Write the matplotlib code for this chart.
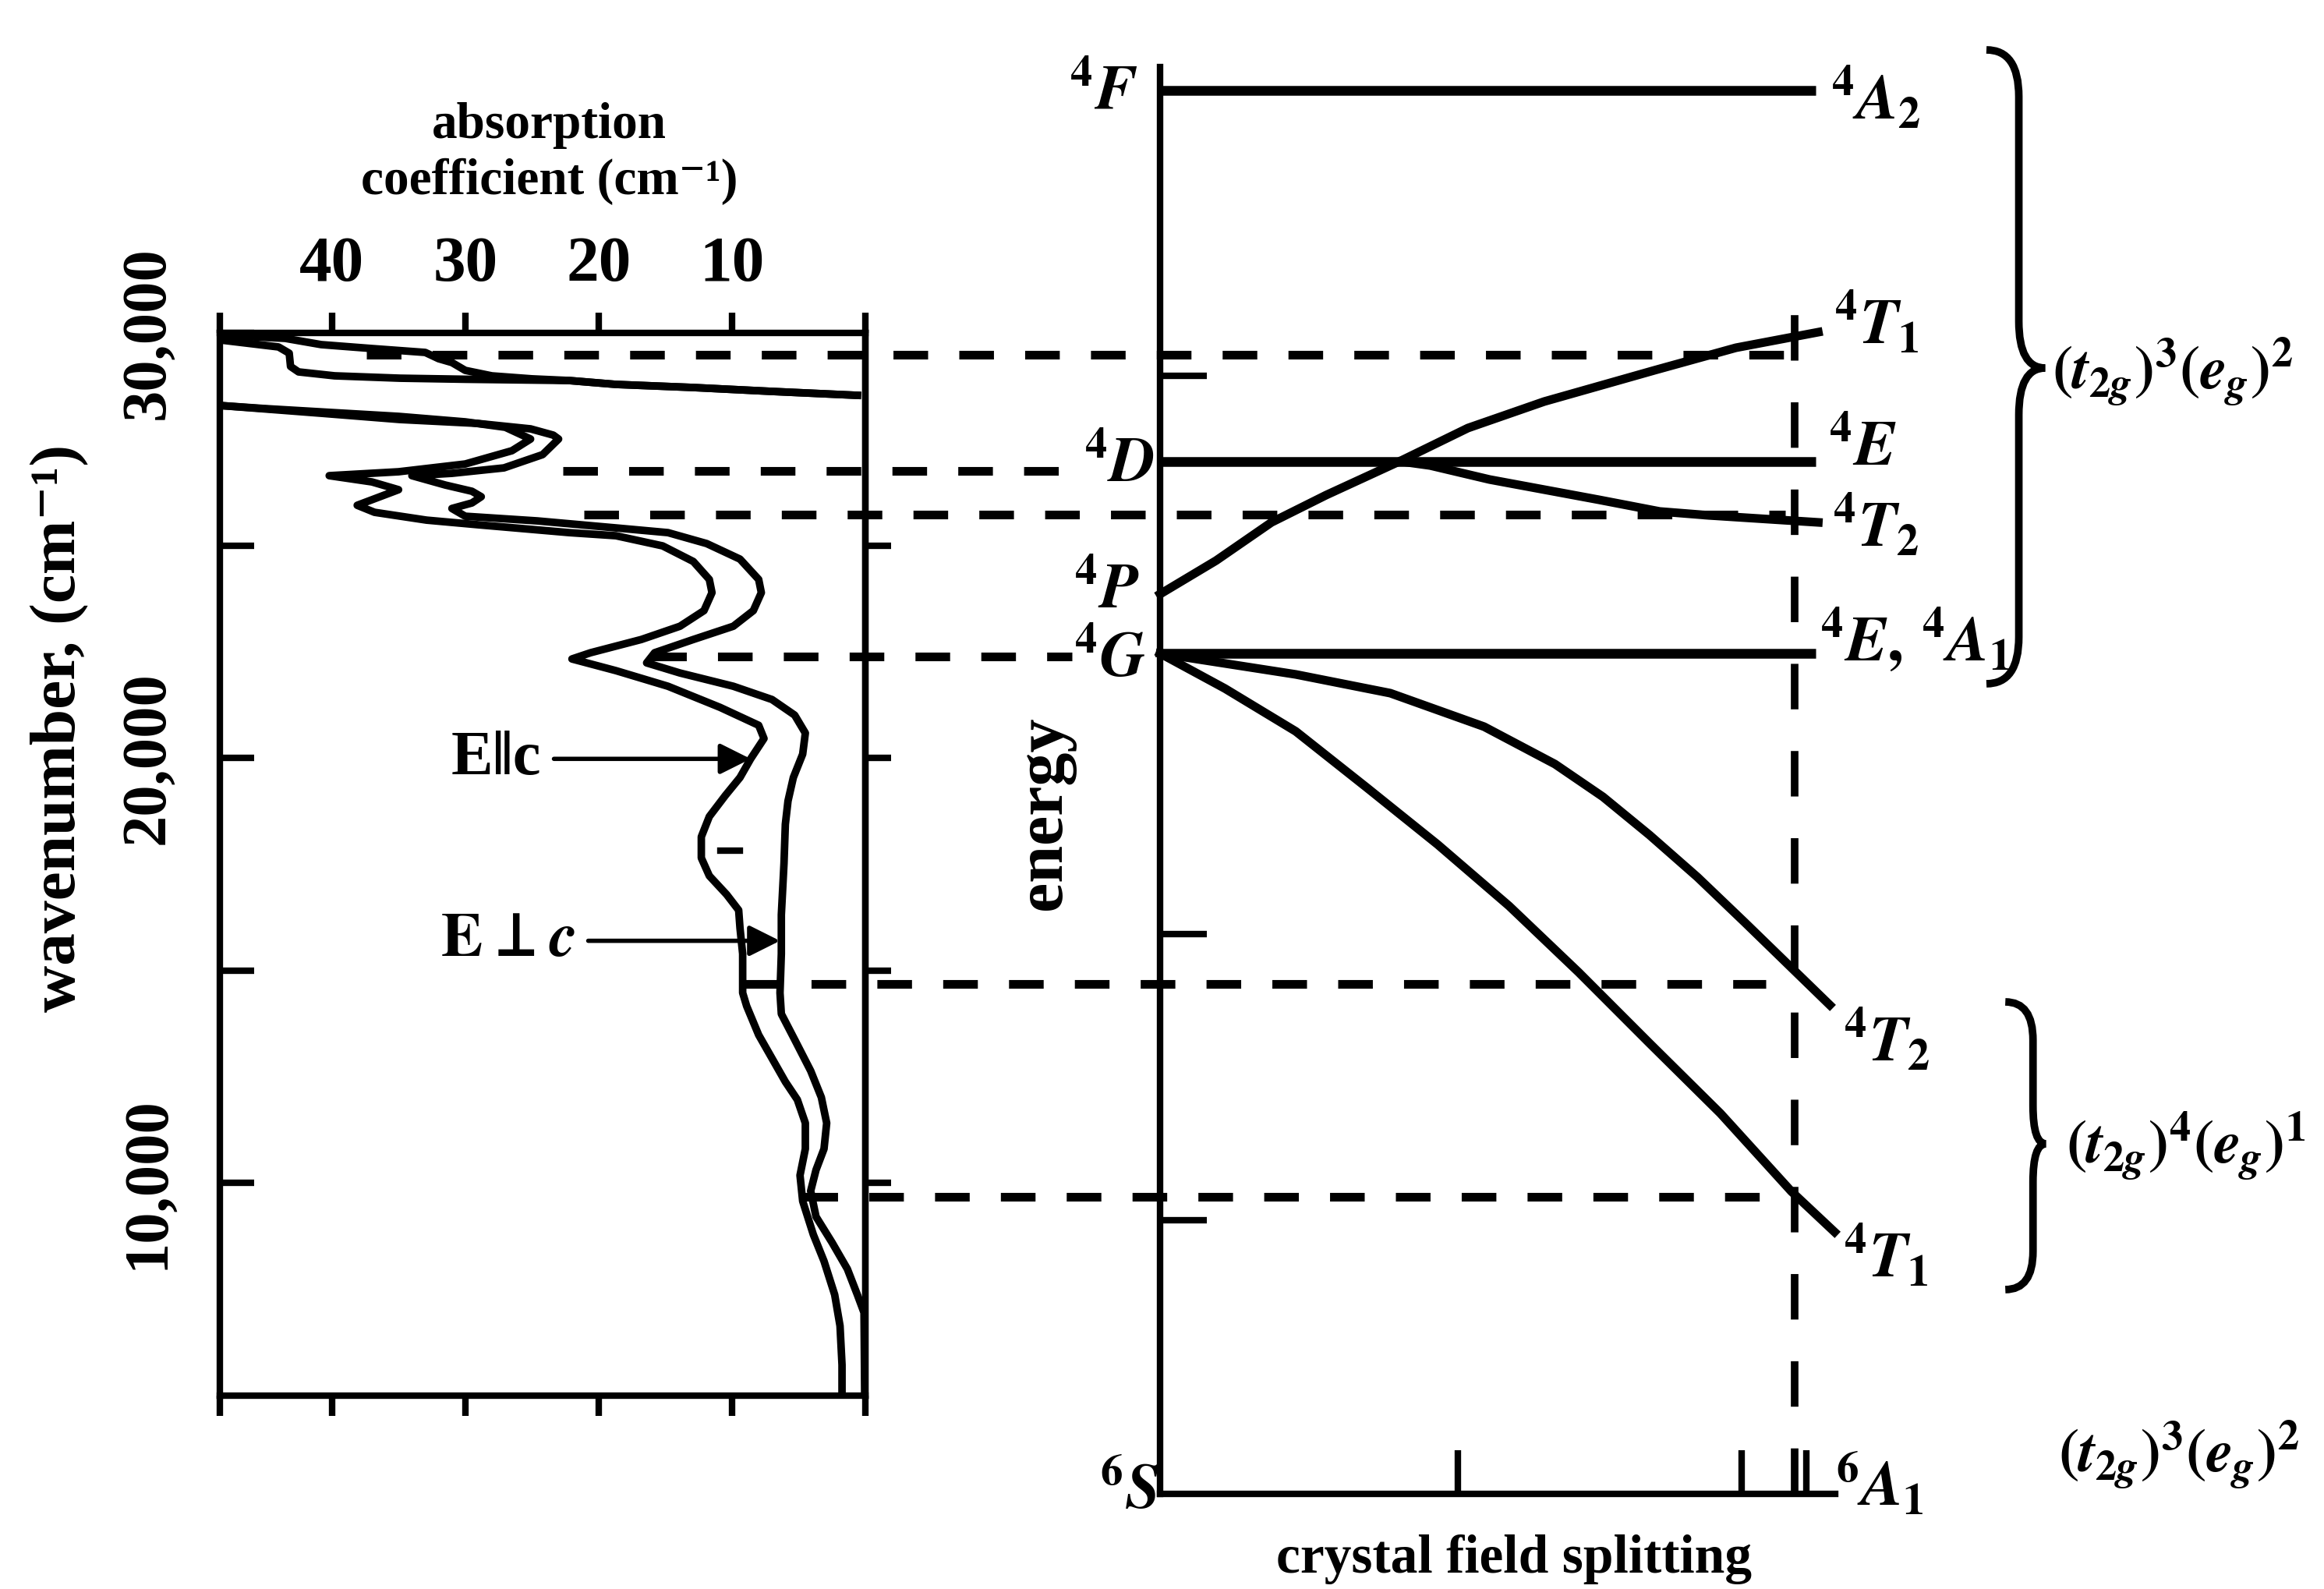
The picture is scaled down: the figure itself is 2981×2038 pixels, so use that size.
import numpy as np
import matplotlib.pyplot as plt
from matplotlib.path import Path
from matplotlib.patches import PathPatch

plt.rcParams['font.family'] = ['Liberation Serif', 'DejaVu Serif', 'DejaVu Sans']
plt.rcParams['font.weight'] = 'bold'
plt.rcParams['axes.labelweight'] = 'bold'
plt.rcParams['mathtext.fontset'] = 'stix'

# ---- absorption spectrum: wavenumber (cm-1) and absorption coefficient (cm-1)
# E || c
w_par = [29835, 29670, 29523, 29211, 29083, 28991, 28935, 28910, 28880, 28789, 28716, 28624, 28532, np.nan,
         28293, 28220, 28128, 28037, 27908, 27780, 27504, 27229, 26917, 26734, 26642, 26495, 26312, 25945,
         25780, 25596, 25486, 25302, 25229, 24990, 24623, 24201, 23890, 23467, 23100, 22788, 22477, 22330,
         22055, 21688, 21192, 20770, 20458, 19981, 19541, 19118, 18623, 18146, 17650, 17228, 16788, 16421,
         16000, 15394, 14476, 14164, 13485, 12935, 12384, 11962, 11412, 10806, 10182, 9576, 8787, 8164,
         7374, 6641, 5724, 5000]
a_par = [48.4, 44, 43.2, 43.1, 42.5, 39.8, 34.9, 30, 22.2, 18.7, 12.9, 7, 0.6, np.nan,
         48.4, 45, 40, 35, 30, 27, 25.1, 26.5, 30, 35, 40.2, 37, 35, 38.1,
         36.8, 32.9, 29, 22.2, 18.7, 15.2, 12.9, 11.7, 11.5, 12.1, 13.9, 16.8, 20.6, 22.0,
         18.7, 14.8, 10.9, 8.0, 7.6, 8.6, 9.4, 10.5, 11.7, 12.3, 12.3, 11.7, 10.4, 9.5,
         9.4, 9.2, 9.2, 8.9, 8.0, 7.0, 6.0, 5.1, 4.5, 4.5, 4.9, 4.7, 3.9, 3.1,
         2.3, 1.9, 1.75, 1.75]
# E perp c
w_perp = [29945, 29872, 29725, 29633, 29541, 29394, 29303, 29119, 28990, 28920, 28880, 28789, 28716, 28624,
          28532, np.nan,
          28293, 28110, 27963, 27872, 27743, 27596, 27504, 27137, 26825, 26697, 26642, 26422, 26275, 26147,
          26000, 25870, 25688, 25578, 25413, 25302, 25045, 24679, 24201, 23890, 23467, 23100, 22788, 22477,
          22238, 22000, 21688, 21376, 21009, 20587, 20091, 19541, 18990, 18440, 17522, 16311, 15394, 14476,
          13980, 13375, 12641, 12017, 11412, 10806, 10310, 9815, 9210, 8604, 7980, 7374, 6953, 5000]
a_perp = [48.4, 43.5, 40.8, 37, 33, 32, 31, 30, 28, 25, 22.2, 18.7, 12.9, 7,
          0.6, np.nan,
          48.4, 40.8, 34.9, 29.1, 25.1, 23.4, 23.0, 24.2, 27.1, 31, 34, 31.5, 29.5, 28.8,
          29.5, 31, 30, 24.6, 18.7, 14.8, 11.9, 9.4, 8.0, 7.8, 8.4, 9.9, 12.9, 15.8,
          16.4, 13.9, 9.9, 7.0, 5.3, 4.5, 4.7, 5.4, 5.8, 6.0, 6.1, 6.3, 6.3, 6.4,
          6.3, 5.3, 4.1, 3.3, 2.9, 3.1, 3.7, 4.1, 3.7, 2.5, 1.35, 0.6, 0.1, 0.05]

# absorption bands (dashed lines): wavenumber, start on spectrum, end in level diagram
band_w = [29490, 26750, 25720, 22390, 14680, 9670]
band_a = [37.4, 22.7, 21.1, 16.0, 9.0, 4.7]
band_end = [0.926, -0.13, 0.926, -0.13, 0.897, 0.926]

# ---- energy level diagram (x = crystal field splitting, y = energy in cm-1)
flat_w = [35700, 26970, 22458]      # 4F, 4D, 4G
t1p_x = [0, 0.083, 0.165, 0.246, 0.359, 0.456, 0.569, 0.732, 0.853, 0.975]
t1p_w = [23853, 24642, 25541, 26183, 27009, 27761, 28385, 29119, 29651, 30018]
t2d_x = [0.359, 0.40, 0.488, 0.650, 0.740, 0.813, 0.975]
t2d_w = [26970, 26880, 26550, 26073, 25798, 25706, 25541]
t2g_x = [0, 0.201, 0.341, 0.480, 0.585, 0.656, 0.725, 0.796, 0.866, 0.935, 0.992]
t2g_w = [22458, 21963, 21522, 20733, 19852, 19082, 18183, 17192, 16128, 15063, 14183]
t1g_x = [0, 0.096, 0.201, 0.306, 0.411, 0.517, 0.620, 0.725, 0.830, 0.935, 0.999]
t1g_w = [22458, 21632, 20623, 19302, 17962, 16513, 14953, 13283, 11632, 9797, 8842]

fig = plt.figure(figsize=(29.81, 20.38), dpi=100)
ax1 = fig.add_axes([282/2981, 1-1790/2038, 828/2981, 1363/2038])
ax2 = fig.add_axes([1488/2981, 1-1916/2038, 866/2981, 1830/2038])

# ---------------- left: spectrum
ax1.plot(a_par, w_par, color='k', lw=7, solid_joinstyle='round')
ax1.plot(a_perp, w_perp, color='k', lw=7, solid_joinstyle='round')
ax1.plot([10.9, 9.4], [17830, 17830], color='k', lw=6)
ax1.set_xlim(48.4, 0)
ax1.set_ylim(5000, 30000)
for s in ax1.spines.values():
    s.set_linewidth(6)
ax1.set_xticks([40, 30, 20, 10, 0])
ax1.set_xticklabels(['40', '30', '20', '10', ''])
ax1.set_xticks([48.4], minor=True)
ax1.tick_params(axis='x', which='both', top=True, bottom=True, labeltop=True, labelbottom=False,
                direction='out', length=19, width=6, pad=16, labelsize=60)
ax1.set_yticks([10000, 15000, 20000, 25000, 30000])
ax1.set_yticklabels(['10,000', '', '20,000', '', '30,000'])
ax1.tick_params(axis='y', left=True, right=False, direction='in', length=32, width=6,
                labelrotation=90, pad=40, labelsize=58)
for lbl in ax1.get_yticklabels():
    lbl.set_va('center')
sec = ax1.secondary_yaxis('right')
sec.set_yticks([10000, 15000, 20000, 25000])
sec.set_yticklabels([])
sec.tick_params(direction='out', length=24, width=6)
sec.spines['right'].set_linewidth(6)

ax1.xaxis.set_label_position('top')
ax1.set_xlabel('absorption\ncoefficient (cm⁻¹)', fontsize=47, linespacing=1.25, va='center')
ax1.xaxis.set_label_coords(0.51, 1.169)
ax1.set_ylabel('wavenumber, (cm⁻¹)', fontsize=60, va='center')
ax1.yaxis.set_label_coords(-0.248, 0.628)

ax1.annotate('E‖c', xy=(8.6, 19980), xytext=(27.7, 19980), ha='center',
             va='center', fontsize=58,
             arrowprops=dict(arrowstyle='-|>', color='k', lw=4, mutation_scale=60, shrinkA=10, shrinkB=0))
ax1.annotate(r'$\mathbf{E}{\bot}c$', xy=(6.4, 15700), xytext=(26.8, 15700), ha='center',
             va='center', fontsize=58, fontweight='normal',
             arrowprops=dict(arrowstyle='-|>', color='k', lw=4, mutation_scale=60, shrinkA=10, shrinkB=0))

# ---------------- right: level diagram
ax2.set_xlim(0, 1)
ax2.set_ylim(2677, 36257)
ax2.spines['top'].set_visible(False)
ax2.spines['right'].set_visible(False)
ax2.spines['left'].set_linewidth(6)
ax2.spines['bottom'].set_linewidth(6)
ax2.set_xticks([0.441, 0.861, 0.957])
ax2.set_xticklabels([])
ax2.set_yticks([9120, 15850, 28990])
ax2.set_yticklabels([])
ax2.tick_params(axis='x', direction='in', length=40, width=6)
ax2.tick_params(axis='y', direction='in', length=43, width=6)

for lev in flat_w:
    ax2.plot([0, 0.971], [lev, lev], color='k', lw=9, solid_capstyle='butt')
for xs, ws in [(t1p_x, t1p_w), (t2d_x, t2d_w), (t2g_x, t2g_w), (t1g_x, t1g_w)]:
    ax2.plot(xs, ws, color='k', lw=8, solid_joinstyle='round', clip_on=False)

# dashed band lines running from the spectrum into the level diagram
for w, a, xe in zip(band_w, band_a, band_end):
    px = ax1.transData.transform((a, w))
    xs = ax2.transData.inverted().transform(px)[0]
    ax2.plot([xs, xe], [w, w], color='k', lw=8, ls=(0, (4, 3.6)), clip_on=False, dash_capstyle='butt')
ax2.plot([0.94, 0.94], [2677, 30860], color='k', lw=7, ls=(0, (6, 5.5)), clip_on=False)

lab = dict(fontsize=58, va='center')
ax2.text(-0.033, 35615, r'$^4F$', ha='right', **lab)
ax2.text(-0.009, 26862, r'$^4D$', ha='right', **lab)
ax2.text(-0.03, 23890, r'$^4P$', ha='right', **lab)
ax2.text(-0.022, 22275, r'$^4G$', ha='right', **lab)
ax2.text(0.0, 2695, r'$^6S$', ha='right', **lab)
ax2.text(0.993, 35505, r'$^4A_2$', ha='left', **lab)
ax2.text(0.998, 30220, r'$^4T_1$', ha='left', **lab)
ax2.text(0.990, 27250, r'$^4E$', ha='left', **lab)
ax2.text(0.995, 25450, r'$^4T_2$', ha='left', **lab)
ax2.text(0.977, 22788, r'$^4E,\,^4A_1$', ha='left', **lab)
ax2.text(1.012, 13338, r'$^4T_2$', ha='left', **lab)
ax2.text(1.012, 8255, r'$^4T_1$', ha='left', **lab)
ax2.text(1.0, 2879, r'$^6A_1$', ha='left', **lab)
ax2.text(1.321, 29083, r'$(t_{2g})^3(e_g)^2$', ha='left', fontsize=56, va='center')
ax2.text(1.342, 10861, r'$(t_{2g})^4(e_g)^1$', ha='left', fontsize=56, va='center')
ax2.text(1.330, 3608, r'$(t_{2g})^3(e_g)^2$', ha='left', fontsize=56, va='center')

ax2.set_xlabel('crystal field splitting', fontsize=50, va='center')
ax2.xaxis.set_label_coords(0.524, -0.046)
ax2.set_ylabel('energy', fontsize=62, va='center')
ax2.yaxis.set_label_coords(-0.171, 0.477)


def brace(ax, x0, xm, x1, yt, yb, ym, h):
    verts = [(x0, yt), (xm, yt), (xm, yt - h),
             (xm, ym + h), (xm, ym), (x1, ym),
             (xm, ym), (xm, ym - h),
             (xm, yb + h), (xm, yb), (x0, yb)]
    codes = [Path.MOVETO, Path.CURVE3, Path.CURVE3,
             Path.LINETO, Path.CURVE3, Path.CURVE3,
             Path.CURVE3, Path.CURVE3,
             Path.LINETO, Path.CURVE3, Path.CURVE3]
    ax.add_patch(PathPatch(Path(verts, codes), fill=False, lw=7, color='k', clip_on=False))


brace(ax2, 1.224, 1.272, 1.311, 36661, 21743, 29174, 1100)
brace(ax2, 1.252, 1.293, 1.312, 14256, 7485, 10916, 900)

fig.savefig('out.png', dpi=100)
